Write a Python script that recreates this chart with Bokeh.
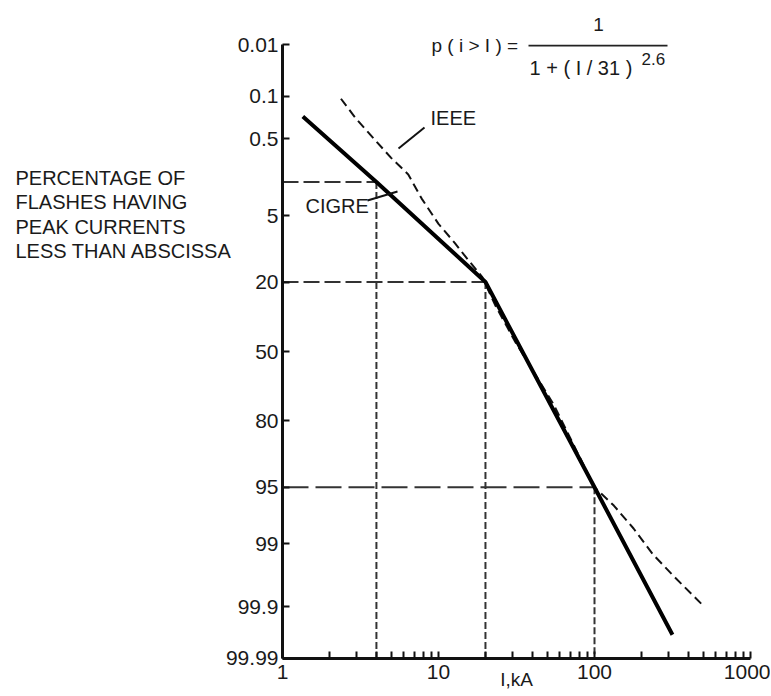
from statistics import NormalDist
from bokeh.plotting import figure
from bokeh.models import Range1d, FixedTicker, Label, Arrow
from bokeh.embed import file_html
from bokeh.resources import INLINE

# ---------------- data ----------------
cigre_current = [1.35, 4, 20, 100, 316]
cigre_pct = [0.22, 2, 20, 95, 99.97]

ieee_current = [2.37, 2.96, 3.86, 4.97, 6.4, 7.8, 10.0, 12.7, 14.6, 19.1,
                23.2, 31.4, 54.8, 100, 133, 178, 237, 316, 487]
ieee_pct = [0.11, 0.24, 0.5, 0.95, 1.6, 3.2, 6.1, 9.4, 12.1, 18.4,
            29, 46, 74, 95, 96.9, 98.4, 99.3, 99.66, 99.89]

guide_current = [4, 20, 100]
guide_pct = [2, 20, 95]

y_tick_pct = [0.01, 0.1, 0.5, 5, 20, 50, 80, 95, 99, 99.9, 99.99]
y_tick_labels = ["0.01", "0.1", "0.5", "5", "20", "50", "80", "95", "99", "99.9", "99.99"]

x_major = [1, 10, 100, 1000]
x_major_labels = ["1", "10", "100", "1000"]
x_minor = [2, 3, 4, 5, 6, 7, 8, 9, 20, 30, 40, 50, 60, 70, 80, 90,
           200, 300, 400, 500, 600, 700, 800, 900]

x_title = "I,kA"
y_label_lines = ["PERCENTAGE OF", "FLASHES HAVING", "PEAK CURRENTS", "LESS THAN ABSCISSA"]

# ---------------- probability (normal) scale ----------------
ND = NormalDist()


def probit(pct):
    return ND.inv_cdf(pct / 100.0)


Z_TOP = probit(y_tick_pct[0])
Z_BOT = probit(y_tick_pct[-1])

cigre_z = [probit(v) for v in cigre_pct]
ieee_z = [probit(v) for v in ieee_pct]
guide_z = [probit(v) for v in guide_pct]
y_ticks = [round(probit(v), 6) for v in y_tick_pct]

# ---------------- layout ----------------
W, H = 770, 695
BL, BT = 282, 44
FR, FB = 750, 658
BR, BB = W - FR, H - FB
FW = FR - BL
FH = FB - BT


def dx(px):
    # canvas pixel -> data x (log scale)
    return 10 ** ((px - BL) / FW * 3)


def dy(py):
    # canvas pixel -> data y (probit scale, flipped)
    return Z_TOP + (py - BT) / FH * (Z_BOT - Z_TOP)


FONT = "Liberation Sans"
TXT = "#1a1a1a"

p = figure(width=W, height=H, x_axis_type="log",
           x_range=Range1d(1, 1000), y_range=Range1d(Z_BOT, Z_TOP),
           output_backend="svg", toolbar_location=None,
           min_border_left=BL, min_border_right=BR,
           min_border_top=BT, min_border_bottom=BB)
p.outline_line_color = None
p.xgrid.visible = False
p.ygrid.visible = False
p.background_fill_color = "white"
p.border_fill_color = "white"

for ax in (p.xaxis[0], p.yaxis[0]):
    ax.axis_line_width = 3
    ax.axis_line_color = "#111111"
    ax.major_tick_line_width = 2
    ax.major_tick_line_color = "#111111"
    ax.minor_tick_line_width = 2
    ax.minor_tick_line_color = "#111111"
    ax.major_tick_in = 7
    ax.major_tick_out = 0
    ax.minor_tick_in = 7
    ax.minor_tick_out = 0
    ax.major_label_text_font = FONT
    ax.major_label_text_font_size = "21px"
    ax.major_label_text_color = TXT

p.yaxis[0].ticker = FixedTicker(ticks=y_ticks, minor_ticks=[])
p.yaxis[0].major_label_overrides = dict(zip(y_ticks, y_tick_labels))
p.yaxis[0].major_label_standoff = 4

xa = p.xaxis[0]
xa.ticker = FixedTicker(ticks=x_major, minor_ticks=x_minor)
xa.major_label_overrides = dict(zip(x_major, x_major_labels))
xa.major_label_standoff = 6
xa.axis_label = x_title
xa.axis_label_text_font = FONT
xa.axis_label_text_font_style = "normal"
xa.axis_label_text_font_size = "19px"
xa.axis_label_text_color = TXT
xa.axis_label_standoff = -13

# ---------------- guide lines ----------------
h_dash = ["16 5", "16 5", "26 7"]
for i in range(len(guide_current)):
    p.segment(x0=[x_major[0]], y0=[guide_z[i]], x1=[guide_current[i]], y1=[guide_z[i]],
              line_color="#333333", line_width=2, line_dash=h_dash[i])
p.segment(x0=guide_current, y0=guide_z, x1=guide_current, y1=[Z_BOT] * len(guide_current),
          line_color="#333333", line_width=2, line_dash="7 3")

# ---------------- curves ----------------
p.line(ieee_current, ieee_z, line_color="#111111", line_width=2, line_dash="9 5")
p.line(cigre_current, cigre_z, line_color="black", line_width=4)

# ---------------- annotations ----------------
BASE_FIX = 8  # Bokeh's "alphabetic" anchor sits a little below the glyph baseline


def add_label(text, px, py, size="20px", align="left", baseline="alphabetic",
              place="center", line_height=1.2):
    if baseline == "alphabetic":
        py = py - BASE_FIX
    lab = Label(x=dx(px), y=dy(py), text=text, text_font=FONT,
                text_font_size=size, text_color=TXT, text_line_height=line_height,
                text_align=align, text_baseline=baseline)
    if place == "center":
        p.add_layout(lab)
    else:
        p.add_layout(lab, place)


add_label("\n".join(y_label_lines), 15, 166, baseline="top", place="left",
          line_height=1.12)

add_label("CIGRE", 305, 213)
add_label("IEEE", 430, 125)

# formula
add_label("p ( i > I ) =", 431, 53, size="19px", place="above")
add_label("1", 598, 32, size="19px", align="center", place="above")
add_label("1 + ( I / 31 )", 529, 75, size="20px")
add_label("2.6", 641, 66, size="17px")
p.add_layout(Arrow(end=None, x_start=dx(528), y_start=dy(45), x_end=dx(667), y_end=dy(45),
                   line_width=2, line_color="#222222"))

# leader lines
p.add_layout(Arrow(end=None, x_start=dx(367), y_start=dy(200), x_end=dx(397), y_end=dy(191),
                   line_width=2, line_color="#111111"))
p.add_layout(Arrow(end=None, x_start=dx(424), y_start=dy(127), x_end=dx(398), y_end=dy(148),
                   line_width=2, line_color="#111111"))

open("out.html", "w").write(file_html(p, INLINE))
